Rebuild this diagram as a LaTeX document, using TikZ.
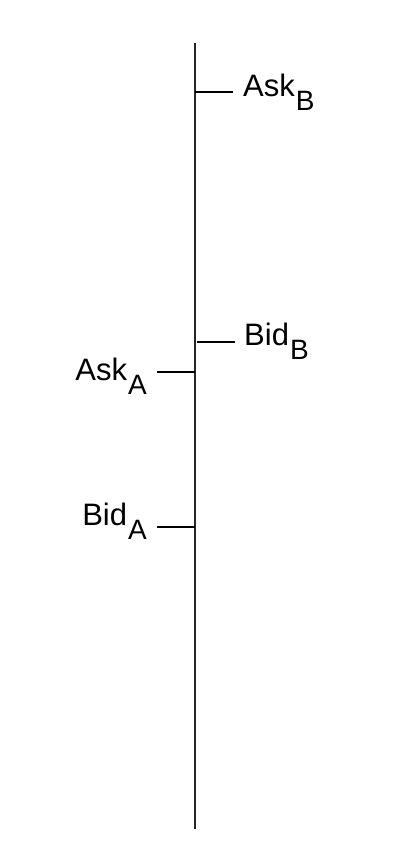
\documentclass[tikz,border=0pt]{standalone}
\usepackage{fontspec}
\setmainfont{Liberation Sans}
\newcommand{\lblsub}[1]{\hspace{1pt}\raisebox{-14pt}{\fontsize{28}{28}\selectfont #1}}
\begin{document}
\begin{tikzpicture}[x=1pt,y=1pt,
  axisline/.style={line width=1.6pt, black!85},
  tickline/.style={line width=1.4pt, black},
  lbl/.style={inner sep=0pt, font=\fontsize{31}{31}\selectfont}]
\useasboundingbox (0,0) rectangle (417,853);
\coordinate (top) at (195,810);
\coordinate (bot) at (195,24);
\draw[axisline] (top) -- (bot);
% Ask_B
\coordinate (askBa) at (195,761);
\coordinate (askBb) at (233,761);
\draw[tickline] (askBa) -- (askBb);
\node[lbl, anchor=base west] (askB) at (243,756) {Ask\lblsub{B}};
% Bid_B
\coordinate (bidBa) at (197,511);
\coordinate (bidBb) at (235,511);
\draw[tickline] (bidBa) -- (bidBb);
\node[lbl, anchor=base west] (bidB) at (244,507) {Bid\lblsub{B}};
% Ask_A
\coordinate (askAa) at (157,481);
\coordinate (askAb) at (195,481);
\draw[tickline] (askAa) -- (askAb);
\node[lbl, anchor=base east] (askA) at (147,472) {Ask\lblsub{A}};
% Bid_A
\coordinate (bidAa) at (157,326);
\coordinate (bidAb) at (195,326);
\draw[tickline] (bidAa) -- (bidAb);
\node[lbl, anchor=base east] (bidA) at (147,327) {Bid\lblsub{A}};
\end{tikzpicture}
\end{document}
